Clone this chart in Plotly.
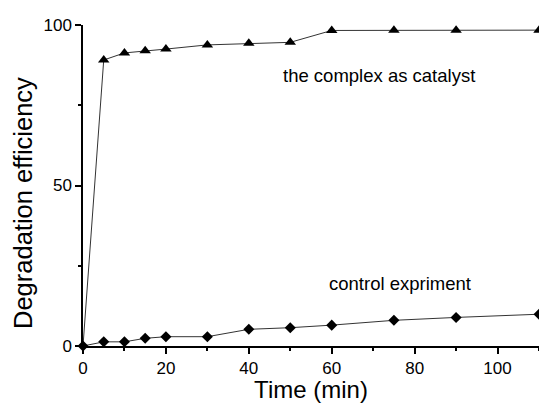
import plotly.graph_objects as go

time = [0, 5, 10, 15, 20, 30, 40, 50, 60, 75, 90, 110]
catalyst = [0, 89.1, 91.3, 92.0, 92.5, 93.8, 94.3, 94.6, 98.3, 98.4, 98.4, 98.4]
control = [0, 1.3, 1.3, 2.4, 2.9, 2.9, 5.2, 5.7, 6.5, 8.0, 8.9, 9.9]

FONT = "Liberation Sans, Arial"

fig = go.Figure()
fig.add_trace(go.Scatter(x=time, y=catalyst, mode="lines+markers",
                         line=dict(color="#333333", width=1),
                         marker=dict(symbol=["circle"] + ["triangle-up"] * 11,
                                     size=[1] + [10] * 11, color="black", opacity=1,
                                     line=dict(width=0, color="black")),
                         showlegend=False, cliponaxis=False))
fig.add_trace(go.Scatter(x=time, y=control, mode="lines+markers",
                         line=dict(color="#333333", width=1),
                         marker=dict(symbol="diamond", size=8.5, color="black", opacity=1,
                                     line=dict(width=0, color="black")),
                         showlegend=False, cliponaxis=False))

fig.add_annotation(x=71.5, y=84.4, text="the complex as catalyst", showarrow=False,
                   font=dict(size=18.5, color="black", family=FONT))
fig.add_annotation(x=76.5, y=19.6, text="control expriment", showarrow=False,
                   font=dict(size=18.5, color="black", family=FONT))
# y-axis title (placed as in the reference, slightly below the axis centre)
fig.add_annotation(xref="paper", yref="paper", x=-0.1645, y=0.4455, xanchor="left", yanchor="middle",
                   text="Degradation efficiency", textangle=-90, showarrow=False, borderpad=0,
                   font=dict(size=25.5, color="black", family=FONT))

fig.update_layout(
    width=531, height=395,
    margin=dict(l=75, r=0, t=17, b=57),
    plot_bgcolor="white", paper_bgcolor="white",
    font=dict(family=FONT, color="black"),
)
fig.update_xaxes(range=[0, 110], tickvals=[0, 20, 40, 60, 80, 100], automargin=False,
                 ticks="outside", ticklen=6, tickwidth=1.5, tickcolor="black",
                 minor=dict(tickvals=[10, 30, 50, 70, 90, 110], ticks="outside", ticklen=3,
                            tickcolor="black", tickwidth=1.5),
                 showline=True, linecolor="black", linewidth=1.5, showgrid=False, zeroline=False,
                 tickfont=dict(size=17), title=dict(text="Time (min)", font=dict(size=24), standoff=2))
fig.update_yaxes(range=[0, 100], tickvals=[0, 50, 100], automargin=False,
                 ticks="outside", ticklen=6, tickwidth=1.5, tickcolor="black",
                 minor=dict(tickvals=[25, 75], ticks="outside", ticklen=3,
                            tickcolor="black", tickwidth=1.5),
                 showline=True, linecolor="black", linewidth=1.5, showgrid=False, zeroline=False,
                 tickfont=dict(size=17))

fig.write_html("out.html")
